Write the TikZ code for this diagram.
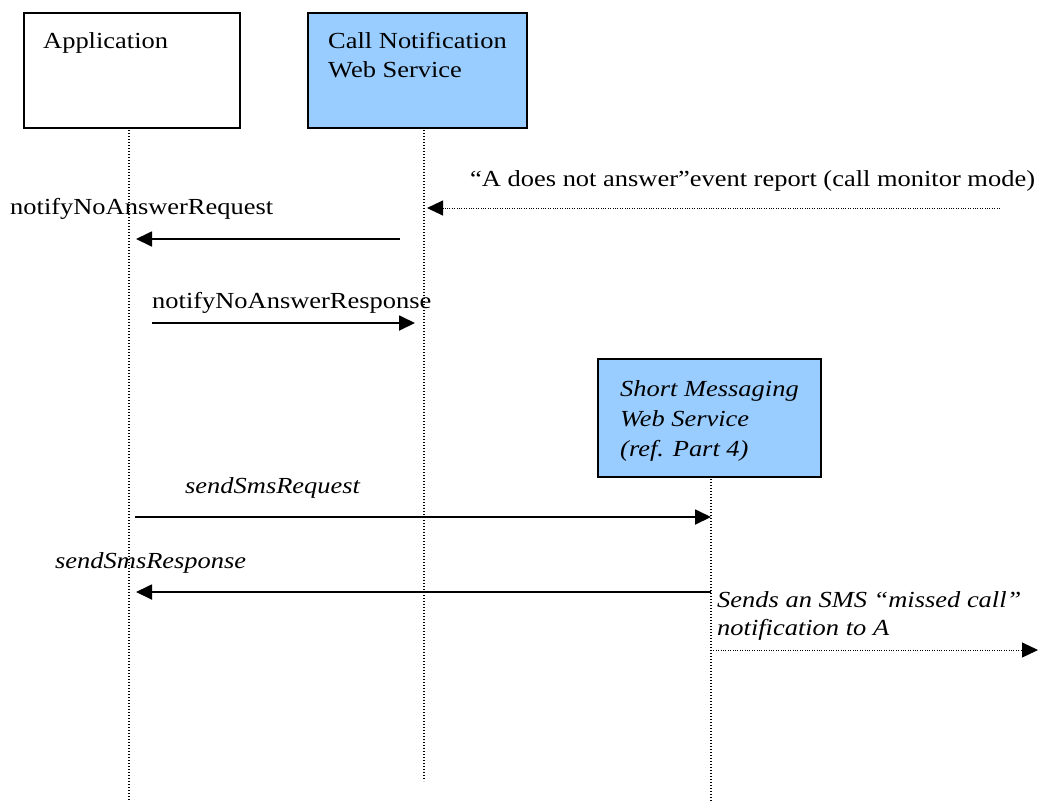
\documentclass[tikz,border=0pt]{standalone}
\usepackage{fontspec}
\setmainfont{Liberation Serif}[FakeStretch=1.15]
\usetikzlibrary{arrows.meta}
\definecolor{svcblue}{HTML}{99CCFF}
\begin{document}
\begin{tikzpicture}[x=1pt,y=-1pt,
  box/.style={draw=black,line width=2pt,anchor=north west,inner sep=0pt},
  txt/.style={inner sep=0pt,anchor=base west,font=\fontsize{23}{29}\selectfont},
  itxt/.style={txt,font=\fontsize{23}{29}\selectfont\itshape},
  lifeline/.style={line width=1.3pt,dash pattern=on 1.3pt off 1.7pt},
  msg/.style={line width=1.8pt,-{Triangle[length=16pt,width=15pt]}},
  dotmsg/.style={line width=1pt,dash pattern=on 1pt off 1.4pt,-{Triangle[length=16pt,width=15pt]}}
]
\useasboundingbox (0,0) rectangle (1051,801);
% boxes
\node[box,fill=white,minimum width=216pt,minimum height=115pt] (app) at (23,12) {};
\node[box,fill=svcblue,minimum width=219pt,minimum height=115pt] (cn) at (307,12) {};
\node[box,fill=svcblue,minimum width=223pt,minimum height=118pt] (sms) at (597,358) {};
% box texts
\node[txt] (apptxt) at (43,48) {Application};
\node[txt] (cntxta) at (328,48) {Call Notification};
\node[txt] (cntxtb) at (328,77) {Web Service};
\node[itxt] (smstxta) at (620,396) {Short Messaging};
\node[itxt] (smstxtb) at (620,426) {Web Service};
\node[itxt] (smstxtc) at (620,456) {(ref. Part 4)};
% lifelines
\coordinate (appTop) at (129,127);
\coordinate (appBot) at (129,801);
\coordinate (cnTop) at (424,127);
\coordinate (cnBot) at (424,781);
\coordinate (smsTop) at (711,476);
\coordinate (smsBot) at (711,801);
\draw[lifeline] (appTop) -- (appBot);
\draw[lifeline] (cnTop) -- (cnBot);
\draw[lifeline] (smsTop) -- (smsBot);
% event report
\node[txt] (evtxt) at (470,186) {“A does not answer”event report (call monitor mode)};
\coordinate (evS) at (1000,208);
\coordinate (evE) at (427,208);
\draw[dotmsg] (evS) -- (evE);
% notifyNoAnswerRequest
\node[txt] (nreq) at (10,214) {notifyNoAnswerRequest};
\coordinate (nreqS) at (400,239);
\coordinate (nreqE) at (136,239);
\draw[msg] (nreqS) -- (nreqE);
% notifyNoAnswerResponse
\node[txt] (nres) at (152,308) {notifyNoAnswerResponse};
\coordinate (nresS) at (152,323);
\coordinate (nresE) at (415,323);
\draw[msg] (nresS) -- (nresE);
% sendSmsRequest
\node[itxt] (sreq) at (185,493) {sendSmsRequest};
\coordinate (sreqS) at (135,517);
\coordinate (sreqE) at (711,517);
\draw[msg] (sreqS) -- (sreqE);
% sendSmsResponse
\node[itxt] (sres) at (55,568) {sendSmsResponse};
\coordinate (sresS) at (711,592);
\coordinate (sresE) at (136,592);
\draw[msg] (sresS) -- (sresE);
% SMS sent
\node[itxt] (senta) at (717,607) {Sends an SMS “missed call”};
\node[itxt] (sentb) at (717,635) {notification to A};
\coordinate (sentS) at (711,650);
\coordinate (sentE) at (1038,650);
\draw[dotmsg] (sentS) -- (sentE);
\end{tikzpicture}
\end{document}
